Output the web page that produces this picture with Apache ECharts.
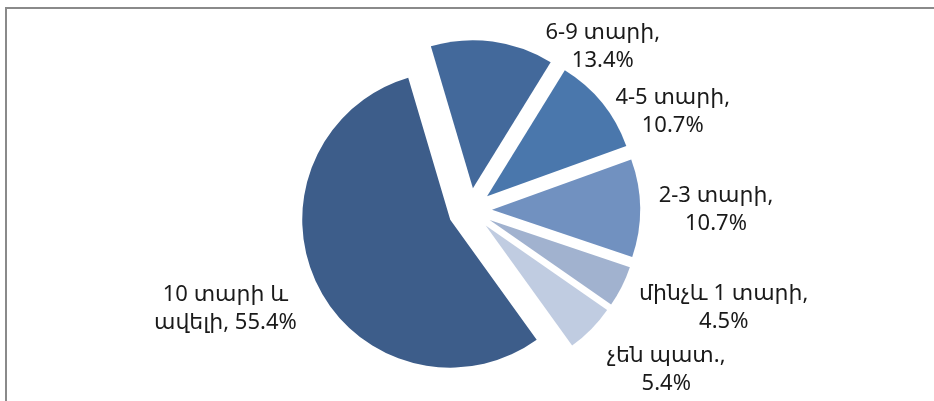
<!DOCTYPE html>
<html><head><meta charset="utf-8">
<script src="https://cdn.jsdelivr.net/npm/echarts@6/dist/echarts.min.js"></script>
<style>html,body{margin:0;padding:0;background:#fff}#c{width:934px;height:401px}</style>
</head><body><div id="c"></div>
<script>
const categories = ['6-9 տարի', '4-5 տարի', '2-3 տարի', 'մինչև 1 տարի', 'չեն պատ.', '10 տարի և\nավելի'];
const shares = [13.4, 10.7, 10.7, 4.5, 5.4, 55.4];
const sliceColors = ['#43699B', '#4A77AC', '#7191C0', '#A1B2CF', '#C0CCE1', '#3D5D8A'];

const chart = echarts.init(document.getElementById('c'), null, {renderer: 'canvas'});
// label fine placement (Excel "best fit" imitation), px shifts from ECharts' outside layout
const labelNudge = [[104, 15], [58, 15], [61, 2], [88, 17], [63, 33], [-78, 19]];
chart.setOption({
  animation: false,
  backgroundColor: '#ffffff',
  graphic: [{
    type: 'rect', silent: true,
    shape: {x: 6, y: 8, width: 1000, height: 500},
    style: {fill: 'none', stroke: '#8a8a8a', lineWidth: 2}
  }],
  series: [{
    type: 'pie',
    center: [470, 210],
    radius: 148,
    startAngle: 106.5,
    clockwise: true,
    selectedMode: 'multiple',
    selectedOffset: 22,
    avoidLabelOverlap: false,
    emphasis: {disabled: true},
    data: categories.map((n, i) => ({name: n, value: shares[i], selected: true, itemStyle: {color: sliceColors[i]}})),
    label: {
      show: true, position: 'outside', color: '#1a1a1a', fontSize: 22, lineHeight: 28,
      fontFamily: '"Noto Sans", "DejaVu Sans", sans-serif',
      formatter: p => p.name + ',' + (p.name.indexOf('\n') >= 0 ? ' ' : '\n') + p.value + '%'
    },
    labelLine: {show: false, length: 10, length2: 0},
    labelLayout: p => {
      const d = labelNudge[p.dataIndex];
      return {dx: d[0], dy: d[1], align: 'center', verticalAlign: 'middle'};
    }
  }]
});
</script></body></html>
